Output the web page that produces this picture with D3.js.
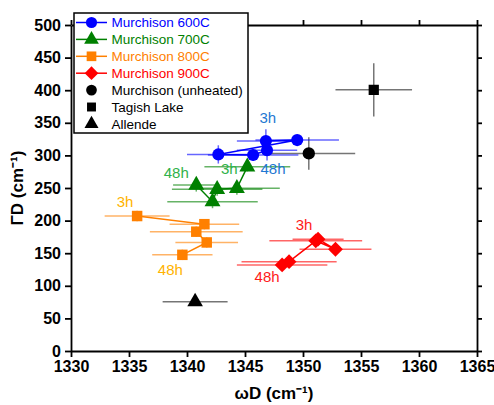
<!DOCTYPE html>
<html>
<head>
<meta charset="utf-8">
<script src="https://cdn.jsdelivr.net/npm/d3@7"></script>
<style>
  body { margin: 0; background: #fff; }
  svg { font-family: "Liberation Sans", Arial, sans-serif; }
  .axis path, .axis line { stroke: #000; stroke-width: 1.8; }
  .axis text { font-size: 16px; font-weight: bold; fill: #000; }
</style>
</head>
<body>
<svg id="chart" width="494" height="405"></svg>
<script>
// Murchison heated series (order: 3h ... 48h)
var m600X = [1346.8, 1349.5, 1342.7, 1345.7, 1346.9];
var m600Y = [322, 323.5, 301.5, 300.5, 308];
var m600Xerr = [2.5, 3.6, 2.7, 3.9, 2.6];
var m600Yerr = [18, 8, 14, 9, 16];

var m700X = [1345.2, 1344.3, 1342.6, 1342.2, 1340.8];
var m700Y = [282.5, 249.5, 248, 229, 254.5];
var m700Xerr = [3.7, 3.7, 3.9, 3.9, 2.0];
var m700Yerr = [7, 10, 10, 10, 10];

var m800X = [1335.7, 1341.5, 1340.8, 1341.7, 1339.6];
var m800Y = [207, 194.5, 183, 166.5, 147.5];
var m800Xerr = [2.8, 3.0, 4.0, 2.7, 2.6];
var m800Yerr = [8, 8, 8, 8, 8];

var m900X = [1351.3, 1352.8, 1351.1, 1348.8, 1348.2];
var m900Y = [171.5, 156, 169, 137, 132];
var m900Xerr = [2.2, 3.1, 4.0, 4.1, 3.9];
var m900Yerr = [8, 8, 8, 8, 8];

// reference meteorites
var unheated = { x: 1350.5, y: 303, xe: 4.0, ye: 25 };
var tagish = { x: 1356.1, y: 400.5, xe: 3.3, ye: 41 };
var allende = { x: 1340.7, y: 75.5, xe: 2.8, ye: 0 };

var xTicks = [1330, 1335, 1340, 1345, 1350, 1355, 1360, 1365];
var yTicks = [0, 50, 100, 150, 200, 250, 300, 350, 400, 450, 500];
var legendNames = ["Murchison 600C", "Murchison 700C", "Murchison 800C", "Murchison 900C",
                   "Murchison (unheated)", "Tagish Lake", "Allende"];
var timeLabels = ["3h", "48h"];

var svg = d3.select("#chart"),
    margin = { top: 25, right: 17, bottom: 54, left: 71 },
    width = 494 - margin.left - margin.right,
    height = 405 - margin.top - margin.bottom;

var x = d3.scaleLinear().domain([1330, 1365]).range([0, width]),
    y = d3.scaleLinear().domain([0, 500]).range([height, 0]);

var g = svg.append("g").attr("transform", "translate(" + margin.left + "," + margin.top + ")");

function sym(type, size) {
    return d3.symbol().type(type).size(size)();
}

var series = [
    { xs: m600X, ys: m600Y, xe: m600Xerr, ye: m600Yerr, color: "#0000ff", lab: "#1f78d2", shape: d3.symbolCircle, size: 115, rot: 0,
      off: [[2, -18], [6, 24]] },
    { xs: m700X, ys: m700Y, xe: m700Xerr, ye: m700Yerr, color: "#008000", lab: "#2fb24a", shape: d3.symbolTriangle, size: 110, rot: 0,
      off: [[-18, 7], [-20, -7]] },
    { xs: m800X, ys: m800Y, xe: m800Xerr, ye: m800Yerr, color: "#ff8000", lab: "#ffb300", shape: d3.symbolSquare, size: 110, rot: 0,
      off: [[-12, -9], [-12, 20]] },
    { xs: m900X, ys: m900Y, xe: m900Xerr, ye: m900Yerr, color: "#ff0000", lab: "#ff1a1a", shape: d3.symbolSquare, size: 110, rot: 45,
      off: [[-14, -9], [-15, 17]] }
];

// axes
g.append("g").attr("class", "axis")
    .attr("transform", "translate(0," + height + ")")
    .call(d3.axisBottom(x).tickValues(xTicks).tickFormat(d3.format("d")).tickSize(6).tickSizeOuter(0).tickPadding(4));
g.append("g").attr("class", "axis")
    .call(d3.axisLeft(y).tickValues(yTicks).tickSize(6).tickSizeOuter(0).tickPadding(4));
g.append("g").attr("class", "axis")
    .call(d3.axisTop(x).tickValues(xTicks).tickFormat("").tickSize(5).tickSizeOuter(0));
g.append("g").attr("class", "axis")
    .attr("transform", "translate(" + width + ",0)")
    .call(d3.axisRight(y).tickValues(yTicks).tickFormat("").tickSize(5).tickSizeOuter(0));

// error bars
function errBars(px, py, pxe, pye, color, op) {
    g.append("line").attr("x1", x(px - pxe)).attr("x2", x(px + pxe)).attr("y1", y(py)).attr("y2", y(py))
        .attr("stroke", color).attr("stroke-width", 1.5).attr("stroke-opacity", op);
    if (pye > 0) {
        g.append("line").attr("x1", x(px)).attr("x2", x(px)).attr("y1", y(py - pye)).attr("y2", y(py + pye))
            .attr("stroke", color).attr("stroke-width", 1.5).attr("stroke-opacity", op);
    }
}

[unheated, tagish, allende].forEach(function(d) { errBars(d.x, d.y, d.xe, d.ye, "#666", 0.9); });
series.forEach(function(s) {
    s.xs.forEach(function(v, i) { errBars(v, s.ys[i], s.xe[i], s.ye[i], s.color, 0.6); });
});

// connecting lines
var line = d3.line().x(function(d) { return x(d[0]); }).y(function(d) { return y(d[1]); });
series.forEach(function(s) {
    g.append("path").datum(d3.zip(s.xs, s.ys)).attr("d", line)
        .attr("fill", "none").attr("stroke", s.color).attr("stroke-width", 1.5);
});

// markers
series.forEach(function(s) {
    g.selectAll(null).data(d3.zip(s.xs, s.ys)).enter().append("path")
        .attr("d", sym(s.shape, s.size))
        .attr("transform", function(d) { return "translate(" + x(d[0]) + "," + y(d[1]) + ") rotate(" + s.rot + ")"; })
        .attr("fill", s.color);
    // time labels for first (3h) and last (48h) point
    [0, s.xs.length - 1].forEach(function(idx, k) {
        g.append("text")
            .attr("x", x(s.xs[idx]) + s.off[k][0])
            .attr("y", y(s.ys[idx]) + s.off[k][1])
            .attr("text-anchor", "middle")
            .style("font-size", "15px")
            .attr("fill", s.lab)
            .text(timeLabels[k]);
    });
});

g.append("path").attr("d", sym(d3.symbolCircle, 120))
    .attr("transform", "translate(" + x(unheated.x) + "," + y(unheated.y) + ")").attr("fill", "#000");
g.append("path").attr("d", sym(d3.symbolSquare, 105))
    .attr("transform", "translate(" + x(tagish.x) + "," + y(tagish.y) + ")").attr("fill", "#000");
g.append("path").attr("d", sym(d3.symbolTriangle, 105))
    .attr("transform", "translate(" + x(allende.x) + "," + y(allende.y) + ")").attr("fill", "#000");

// axis titles
svg.append("text")
    .attr("x", margin.left + width / 2).attr("y", 399)
    .attr("text-anchor", "middle")
    .style("font-size", "17px").style("font-weight", "bold")
    .text("ωD (cm⁻¹)");
svg.append("text")
    .attr("transform", "translate(23," + (margin.top + height / 2) + ") rotate(-90)")
    .attr("text-anchor", "middle")
    .style("font-size", "17px").style("font-weight", "bold")
    .text("ΓD (cm⁻¹)");

// legend
var leg = svg.append("g").attr("transform", "translate(74,13)");
leg.append("rect").attr("width", 174).attr("height", 120)
    .attr("fill", "#fff").attr("stroke", "#000").attr("stroke-width", 1.5);
var legShapes = series.map(function(s) { return { color: s.color, shape: s.shape, size: s.size * 0.85, rot: s.rot, line: true }; })
    .concat([
        { color: "#000", shape: d3.symbolCircle, size: 90, rot: 0, line: false },
        { color: "#000", shape: d3.symbolSquare, size: 80, rot: 0, line: false },
        { color: "#000", shape: d3.symbolTriangle, size: 85, rot: 0, line: false }
    ]);
legShapes.forEach(function(d, i) {
    var ly = 9.5 + i * 16.9;
    if (d.line) {
        leg.append("line").attr("x1", 2).attr("x2", 33).attr("y1", ly).attr("y2", ly)
            .attr("stroke", d.color).attr("stroke-width", 1.5);
    }
    leg.append("path").attr("d", sym(d.shape, d.size))
        .attr("transform", "translate(17.5," + ly + ") rotate(" + d.rot + ")")
        .attr("fill", d.color);
    leg.append("text").attr("x", 37.5).attr("y", ly + 4.8)
        .style("font-size", "13.5px")
        .attr("fill", i < 4 ? d.color : "#000")
        .text(legendNames[i]);
});
</script>
</body>
</html>
